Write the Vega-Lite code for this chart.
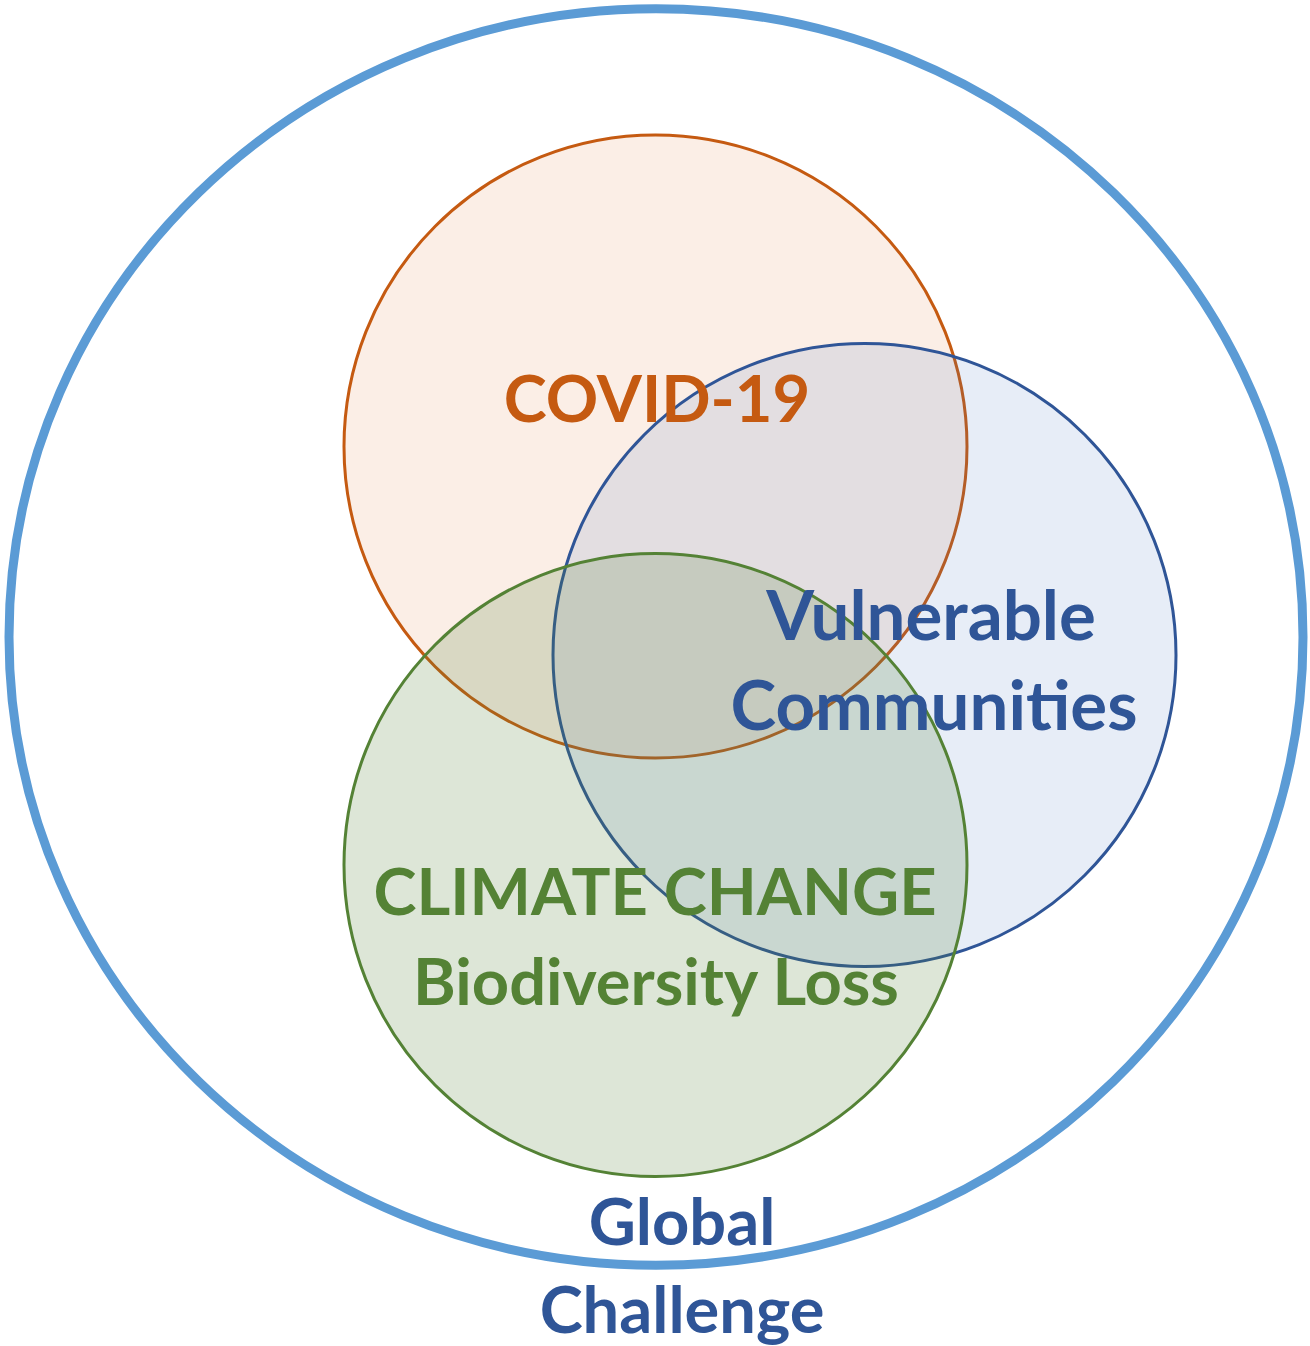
{
  "$schema": "https://vega.github.io/schema/vega-lite/v6.json",
  "width": 1310,
  "height": 1346,
  "autosize": {"type": "none"},
  "padding": 0,
  "background": "white",
  "config": {"view": {"stroke": null}},
  "datasets": {
    "circles": [
      {"name": "Global", "cx": 656, "cy": 637, "d": 1294},
      {"name": "COVID-19", "cx": 655.5, "cy": 446.5, "d": 623},
      {"name": "Vulnerable Communities", "cx": 864.5, "cy": 655, "d": 623},
      {"name": "Climate Change", "cx": 655.5, "cy": 865, "d": 623}
    ],
    "labels": [
      {"label": "COVID-19", "group": "covid", "x": 657, "y": 422},
      {"label": "Vulnerable", "group": "vuln", "x": 931, "y": 640},
      {"label": "Communities", "group": "vuln", "x": 934, "y": 730},
      {"label": "CLIMATE CHANGE", "group": "climate", "x": 655, "y": 915},
      {"label": "Biodiversity Loss", "group": "climate", "x": 656, "y": 1005},
      {"label": "Global", "group": "global", "x": 682, "y": 1245},
      {"label": "Challenge", "group": "global", "x": 682, "y": 1333}
    ]
  },
  "encoding": {
    "x": {"type": "quantitative", "scale": {"domain": [0, 1310], "nice": false, "zero": false}, "axis": null},
    "y": {"type": "quantitative", "scale": {"domain": [0, 1346], "nice": false, "zero": false, "reverse": true}, "axis": null}
  },
  "layer": [
    {
      "data": {"name": "circles"},
      "transform": [{"filter": "datum.name === 'Global'"}],
      "mark": {
        "type": "point",
        "shape": "M 1 0 C 1 0.5363 0.5523 0.971 0 0.971 C -0.5523 0.971 -1 0.5363 -1 0 C -1 -0.5363 -0.5523 -0.971 0 -0.971 C 0.5523 -0.971 1 -0.5363 1 0 Z",
        "filled": false,
        "stroke": "#5B9BD5",
        "strokeWidth": 9,
        "opacity": 1
      },
      "encoding": {
        "x": {"field": "cx"},
        "y": {"field": "cy"},
        "size": {"field": "d", "type": "quantitative", "scale": {"type": "pow", "exponent": 2, "domain": [0, 2000], "range": [0, 4000000]}, "legend": null}
      }
    },
    {
      "data": {"name": "circles"},
      "transform": [{"filter": "datum.name === 'COVID-19'"}],
      "mark": {"type": "point", "shape": "circle", "filled": true, "fill": "#FBEEE6", "fillOpacity": 1, "stroke": "#C55A11", "strokeWidth": 3, "strokeOpacity": 1, "opacity": 1},
      "encoding": {
        "x": {"field": "cx"},
        "y": {"field": "cy"},
        "size": {"field": "d", "type": "quantitative", "scale": {"type": "pow", "exponent": 2, "domain": [0, 2000], "range": [0, 4000000]}, "legend": null}
      }
    },
    {
      "data": {"name": "circles"},
      "transform": [{"filter": "datum.name === 'Vulnerable Communities'"}],
      "mark": {"type": "point", "shape": "circle", "filled": true, "fill": "#4472C4", "fillOpacity": 0.13, "stroke": "#2F5597", "strokeWidth": 3, "strokeOpacity": 1, "opacity": 1},
      "encoding": {
        "x": {"field": "cx"},
        "y": {"field": "cy"},
        "size": {"field": "d", "type": "quantitative", "scale": {"type": "pow", "exponent": 2, "domain": [0, 2000], "range": [0, 4000000]}, "legend": null}
      }
    },
    {
      "data": {"name": "circles"},
      "transform": [{"filter": "datum.name === 'Climate Change'"}],
      "mark": {"type": "point", "shape": "circle", "filled": true, "fill": "#548235", "fillOpacity": 0.2, "stroke": "#548235", "strokeWidth": 3, "strokeOpacity": 1, "opacity": 1},
      "encoding": {
        "x": {"field": "cx"},
        "y": {"field": "cy"},
        "size": {"field": "d", "type": "quantitative", "scale": {"type": "pow", "exponent": 2, "domain": [0, 2000], "range": [0, 4000000]}, "legend": null}
      }
    },
    {
      "data": {"name": "labels"},
      "transform": [{"filter": "datum.group !== 'vuln'"}],
      "mark": {"type": "text", "font": "Lato", "fontWeight": "bold", "fontSize": 65, "align": "center", "baseline": "alphabetic"},
      "encoding": {
        "x": {"field": "x"},
        "y": {"field": "y"},
        "text": {"field": "label"},
        "color": {"field": "group", "type": "nominal", "scale": {"domain": ["covid", "vuln", "climate", "global"], "range": ["#C55A11", "#2F5597", "#548235", "#2F5597"]}, "legend": null}
      }
    },
    {
      "data": {"name": "labels"},
      "transform": [{"filter": "datum.group === 'vuln'"}],
      "mark": {"type": "text", "font": "Lato", "fontWeight": "bold", "fontSize": 69, "align": "center", "baseline": "alphabetic", "color": "#2F5597"},
      "encoding": {
        "x": {"field": "x"},
        "y": {"field": "y"},
        "text": {"field": "label"}
      }
    }
  ]
}
